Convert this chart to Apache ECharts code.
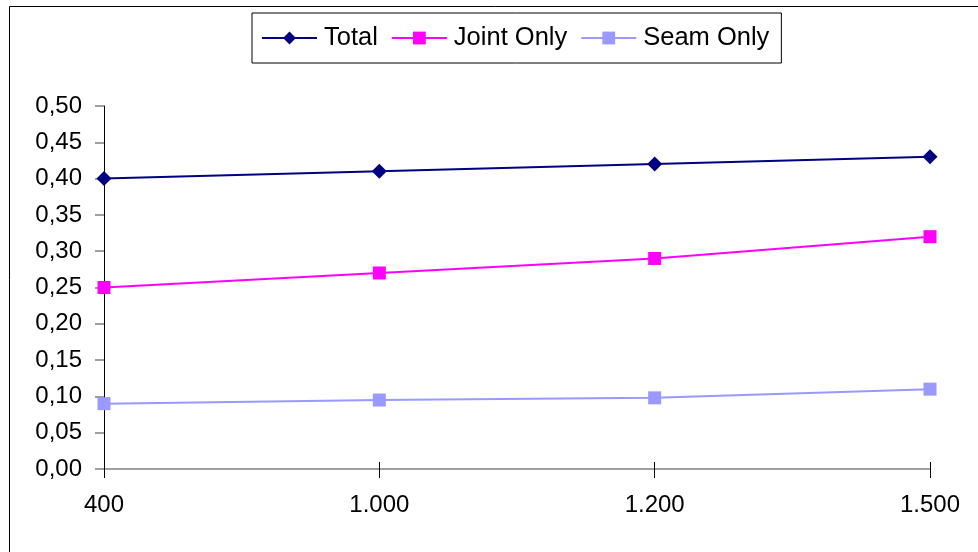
<!DOCTYPE html>
<html>
<head>
<meta charset="utf-8">
<script src="https://cdn.jsdelivr.net/npm/echarts@6/dist/echarts.min.js"></script>
<style>
  html, body { margin: 0; padding: 0; background: #fff; }
  #chart { width: 978px; height: 552px; }
</style>
</head>
<body>
<div id="chart"></div>
<script>
// Category labels along the x axis
const categories = ['400', '1.000', '1.200', '1.500'];
// Series values
const totalValues = [0.40, 0.41, 0.42, 0.43];
const jointOnlyValues = [0.25, 0.27, 0.29, 0.32];
const seamOnlyValues = [0.09, 0.095, 0.098, 0.11];
// Y axis range
const yMin = 0, yMax = 0.5, yStep = 0.05;

const font = 'Liberation Sans, Arial, sans-serif';
const chart = echarts.init(document.getElementById('chart'));

const gridRect = { left: 104, right: 48, top: 106, bottom: 83 };

chart.setOption({
  animation: false,
  backgroundColor: '#fff',
  graphic: [{
    type: 'rect',
    shape: { x: 9.5, y: 6.5, width: 1000, height: 600 },
    style: { fill: 'none', stroke: '#000', lineWidth: 1 },
    silent: true
  }],
  legend: {
    left: 252, top: 13,
    padding: [12, 12, 12, 9],
    borderColor: '#000', borderWidth: 1,
    itemWidth: 55, itemHeight: 16, itemGap: 13,
    textStyle: { fontFamily: font, fontSize: 25.5, color: '#000', padding: [0, 0, 0, 2] },
    data: ['Total', 'Joint Only', 'Seam Only']
  },
  grid: [
    Object.assign({}, gridRect),
    Object.assign({}, gridRect)
  ],
  xAxis: [{
    gridIndex: 0,
    type: 'category', data: categories, boundaryGap: false,
    axisLine: { lineStyle: { color: '#808080', width: 1.5 } },
    axisTick: { show: true, alignWithLabel: true, length: 9, lineStyle: { color: '#000' } },
    axisLabel: { fontFamily: font, fontSize: 24, color: '#000', margin: 24 },
    splitLine: { show: false }
  }, {
    gridIndex: 1,
    type: 'category', data: categories, boundaryGap: false,
    axisLine: { show: false },
    axisTick: { show: true, inside: true, length: 7, lineStyle: { color: '#000' } },
    axisLabel: { show: false },
    splitLine: { show: false }
  }],
  yAxis: [{
    gridIndex: 0,
    type: 'value', min: yMin, max: yMax, interval: yStep,
    axisLine: { show: true, lineStyle: { color: '#000' } },
    axisTick: { show: true, length: 9, lineStyle: { color: '#808080', width: 1.5 } },
    axisLabel: {
      fontFamily: font, fontSize: 24, color: '#000', margin: 22,
      formatter: v => v.toFixed(2).replace('.', ',')
    },
    splitLine: { show: false }
  }, {
    gridIndex: 1,
    type: 'value', min: yMin, max: yMax, interval: yStep,
    show: false
  }],
  series: [{
    name: 'Total', type: 'line', data: totalValues,
    symbol: 'diamond', symbolSize: 15,
    lineStyle: { color: '#000080', width: 2 },
    itemStyle: { color: '#000080' }
  }, {
    name: 'Joint Only', type: 'line', data: jointOnlyValues,
    symbol: 'rect', symbolSize: 13,
    lineStyle: { color: '#FF00FF', width: 2 },
    itemStyle: { color: '#FF00FF' }
  }, {
    name: 'Seam Only', type: 'line', data: seamOnlyValues,
    symbol: 'rect', symbolSize: 13,
    lineStyle: { color: '#9999FF', width: 2 },
    itemStyle: { color: '#9999FF' }
  }]
});
</script>
</body>
</html>
